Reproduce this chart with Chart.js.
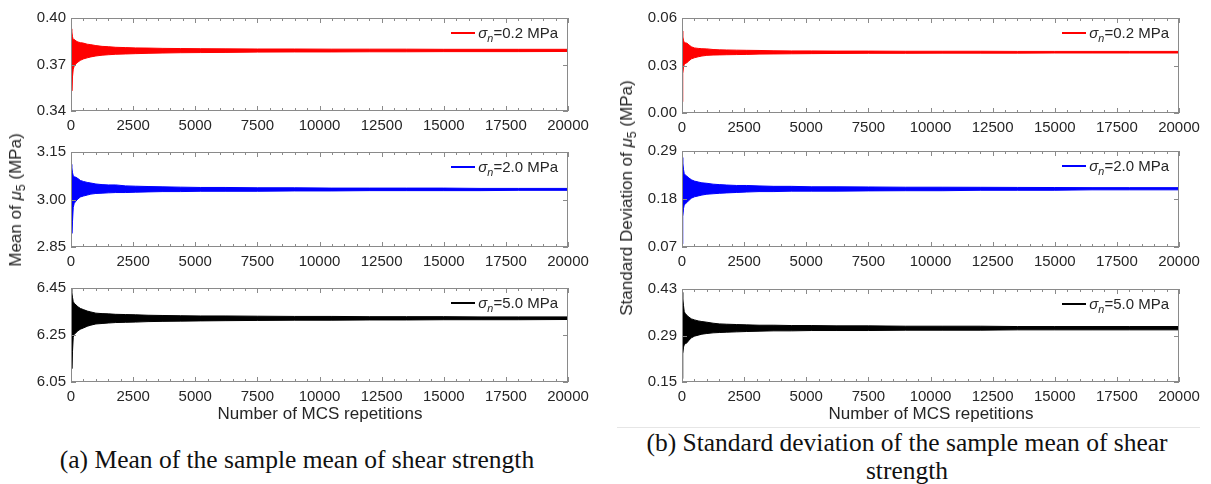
<!DOCTYPE html>
<html>
<head>
<meta charset="utf-8">
<script src="https://cdn.jsdelivr.net/npm/chart.js@4.4.1/dist/chart.umd.min.js"></script>
<style>
  body { margin: 0; background: #fff; width: 1211px; height: 484px; overflow: hidden; position: relative;
         font-family: 'Liberation Sans', Arial, sans-serif; color: #262626; }
  canvas { position: absolute; }
  .lbl { position: absolute; white-space: nowrap; font-size: 17px; line-height: 20px; }
  .legend { position: absolute; display: flex; align-items: center; font-size: 15px; white-space: nowrap; }
  .legend .swatch { display: inline-block; width: 24px; height: 2px; margin-right: 3px; }
  .cap { position: absolute; font-family: 'Liberation Serif', 'Times New Roman', serif; font-size: 25.5px;
         color: #111; white-space: nowrap; text-align: center; line-height: 28px; }
  sub { font-size: 0.72em; vertical-align: -0.35em; line-height: 0; }
</style>
</head>
<body>
<script>
// x positions (MCS repetitions) where the trace envelope was read
const repetitions = [0, 20, 40, 60, 90, 130, 200, 280, 380, 500, 650, 800, 1000, 1250, 1500, 1800,
    2200, 2600, 3100, 3700, 4400, 5200, 6200, 7500, 9000, 10500, 12000, 13500, 15000, 16500, 18000, 20000];

// (a) mean of the sample mean, upper / lower edge of the fluctuating trace
const meanUpper02 = [0.384, 0.393, 0.391, 0.388, 0.386, 0.3862, 0.3852, 0.3845, 0.3841, 0.3838, 0.3831, 0.3828,
    0.3822, 0.3817, 0.3815, 0.3811, 0.3809, 0.3807, 0.3806, 0.3804, 0.3803, 0.3802, 0.3801, 0.3800, 0.3800,
    0.3799, 0.3799, 0.3799, 0.3798, 0.3798, 0.3798, 0.3798];
const meanLower02 = [0.372, 0.360, 0.353, 0.362, 0.367, 0.3690, 0.3705, 0.3716, 0.3727, 0.3736, 0.3743, 0.3749,
    0.3755, 0.3760, 0.3763, 0.3766, 0.3768, 0.3770, 0.3772, 0.3774, 0.3776, 0.3777, 0.3778, 0.3780, 0.3781,
    0.3781, 0.3782, 0.3782, 0.3783, 0.3783, 0.3783, 0.3784];
const meanUpper20 = [3.060, 3.111, 3.100, 3.085, 3.075, 3.072, 3.070, 3.066, 3.060, 3.057, 3.054, 3.052, 3.049,
    3.047, 3.046, 3.046, 3.043, 3.042, 3.041, 3.040, 3.039, 3.038, 3.038, 3.037, 3.037, 3.036, 3.036, 3.036,
    3.036, 3.035, 3.035, 3.035];
const meanLower20 = [3.000, 2.950, 2.893, 2.930, 2.975, 2.988, 2.995, 3.002, 3.008, 3.011, 3.014, 3.017, 3.019,
    3.020, 3.021, 3.022, 3.022, 3.023, 3.024, 3.025, 3.025, 3.026, 3.026, 3.026, 3.027, 3.027, 3.028, 3.028,
    3.028, 3.028, 3.029, 3.029];
const meanUpper50 = [6.380, 6.447, 6.430, 6.410, 6.392, 6.385, 6.378, 6.370, 6.363, 6.358, 6.352, 6.348, 6.343,
    6.341, 6.340, 6.338, 6.337, 6.336, 6.334, 6.333, 6.332, 6.331, 6.331, 6.330, 6.329, 6.329, 6.328, 6.328,
    6.328, 6.327, 6.327, 6.327];
const meanLower50 = [6.270, 6.200, 6.107, 6.180, 6.240, 6.252, 6.260, 6.268, 6.275, 6.280, 6.287, 6.292, 6.297,
    6.299, 6.301, 6.303, 6.304, 6.305, 6.307, 6.308, 6.309, 6.310, 6.311, 6.312, 6.313, 6.313, 6.314, 6.314,
    6.315, 6.315, 6.315, 6.316];

// (b) standard deviation of the sample mean
const sdUpper02 = [0.0300, 0.0518, 0.0480, 0.0460, 0.0445, 0.0443, 0.0441, 0.0430, 0.0418, 0.0411, 0.0408,
    0.0406, 0.0405, 0.0401, 0.0399, 0.0398, 0.0397, 0.0396, 0.0395, 0.0393, 0.0392, 0.0392, 0.0391, 0.0391,
    0.0390, 0.0390, 0.0390, 0.0389, 0.0389, 0.0389, 0.0389, 0.0389];
const sdLower02 = [0.0071, 0.0150, 0.0250, 0.0290, 0.0305, 0.0312, 0.0318, 0.0330, 0.0342, 0.0349, 0.0355,
    0.0360, 0.0364, 0.0366, 0.0367, 0.0368, 0.0369, 0.0370, 0.0372, 0.0373, 0.0374, 0.0375, 0.0376, 0.0377,
    0.0377, 0.0378, 0.0378, 0.0378, 0.0379, 0.0379, 0.0379, 0.0379];
const sdUpper20 = [0.150, 0.275, 0.262, 0.248, 0.238, 0.235, 0.232, 0.228, 0.224, 0.221, 0.219, 0.217, 0.216,
    0.214, 0.213, 0.212, 0.211, 0.211, 0.210, 0.209, 0.209, 0.208, 0.208, 0.2076, 0.207, 0.207, 0.2068, 0.2065,
    0.2063, 0.206, 0.206, 0.206];
const sdLower20 = [0.077, 0.110, 0.140, 0.158, 0.166, 0.169, 0.172, 0.177, 0.182, 0.185, 0.187, 0.189, 0.191,
    0.192, 0.193, 0.194, 0.195, 0.196, 0.197, 0.197, 0.198, 0.198, 0.198, 0.1986, 0.199, 0.199, 0.200, 0.200,
    0.200, 0.201, 0.201, 0.201];
const sdUpper50 = [0.250, 0.420, 0.400, 0.380, 0.362, 0.356, 0.351, 0.345, 0.340, 0.337, 0.334, 0.332, 0.330,
    0.327, 0.325, 0.324, 0.323, 0.322, 0.321, 0.321, 0.320, 0.320, 0.319, 0.319, 0.318, 0.318, 0.318, 0.317,
    0.317, 0.317, 0.317, 0.317];
const sdLower50 = [0.160, 0.200, 0.235, 0.255, 0.262, 0.265, 0.268, 0.276, 0.283, 0.288, 0.291, 0.294, 0.296,
    0.298, 0.299, 0.300, 0.301, 0.302, 0.303, 0.304, 0.304, 0.305, 0.305, 0.305, 0.306, 0.306, 0.306, 0.307,
    0.307, 0.307, 0.307, 0.307];

// tick labels
const xTickStep = 2500;
const xMinorStep = 500;
const meanTicks02 = [0.34, 0.37, 0.40];
const meanTicks20 = [2.85, 3.00, 3.15];
const meanTicks50 = [6.05, 6.25, 6.45];
const sdTicks02 = [0.00, 0.03, 0.06];
const sdTicks20 = [0.07, 0.18, 0.29];
const sdTicks50 = [0.15, 0.29, 0.43];
const stressLabels = ['0.2', '2.0', '5.0'];

const YW = 70, PT = 12, PR = 40, XH = 30;

Chart.defaults.font.family = "'Liberation Sans', Arial, sans-serif";
Chart.defaults.color = '#262626';

// box around plot area with inward ticks, like the original figure
const boxPlugin = {
    id: 'boxTicks',
    afterDraw(chart) {
        const { ctx, chartArea: a, scales } = chart;
        ctx.save();
        ctx.strokeStyle = '#8a8a8a';
        ctx.lineWidth = 1;
        ctx.strokeRect(a.left + 0.5, a.top + 0.5, a.right - a.left - 1, a.bottom - a.top - 1);
        ctx.beginPath();
        for (let v = 0; v <= 20000; v += xMinorStep) {
            const px = Math.round(scales.x.getPixelForValue(v)) + 0.5;
            const len = v % xTickStep === 0 ? 5 : 3;
            ctx.moveTo(px, a.bottom); ctx.lineTo(px, a.bottom - len);
            ctx.moveTo(px, a.top); ctx.lineTo(px, a.top + len);
        }
        chart.options.yTickValues.forEach(v => {
            const py = Math.round(scales.y.getPixelForValue(v)) + 0.5;
            ctx.moveTo(a.left, py); ctx.lineTo(a.left + 5, py);
            ctx.moveTo(a.right, py); ctx.lineTo(a.right - 5, py);
        });
        ctx.stroke();
        ctx.restore();
    }
};

function makePanel(area, upper, lower, color, yTicks, stress) {
    const canvas = document.createElement('canvas');
    const w = (area.x1 - area.x0) + YW + PR;
    const h = (area.y1 - area.y0) + PT + XH;
    canvas.width = w; canvas.height = h;
    canvas.style.left = (area.x0 - YW) + 'px';
    canvas.style.top = (area.y0 - PT) + 'px';
    canvas.style.width = w + 'px'; canvas.style.height = h + 'px';
    document.body.appendChild(canvas);

    new Chart(canvas.getContext('2d'), {
        type: 'line',
        data: {
            datasets: [{
                data: repetitions.map((x, i) => ({ x, y: upper[i] })),
                borderColor: color, backgroundColor: color, borderWidth: 1,
                pointRadius: 0, tension: 0, fill: '+1'
            }, {
                data: repetitions.map((x, i) => ({ x, y: lower[i] })),
                borderColor: color, backgroundColor: color, borderWidth: 1,
                pointRadius: 0, tension: 0, fill: false
            }]
        },
        options: {
            responsive: false,
            animation: false,
            devicePixelRatio: 1,
            yTickValues: yTicks,
            layout: { padding: { left: 0, top: PT, right: PR, bottom: 0 } },
            plugins: { legend: { display: false }, tooltip: { enabled: false } },
            scales: {
                x: {
                    type: 'linear', min: 0, max: 20000,
                    grid: { display: false, drawTicks: false },
                    border: { display: false },
                    ticks: { stepSize: xTickStep, maxRotation: 0, autoSkip: false, padding: 6,
                             font: { size: 15 }, callback: v => String(v) },
                    afterFit: s => { s.height = XH; }
                },
                y: {
                    min: yTicks[0], max: yTicks[2],
                    grid: { display: false, drawTicks: false },
                    border: { display: false },
                    afterBuildTicks: s => { s.ticks = yTicks.map(v => ({ value: v })); },
                    ticks: { padding: 5, font: { size: 15 }, callback: v => v.toFixed(2) },
                    afterFit: s => { s.width = YW; }
                }
            }
        },
        plugins: [boxPlugin]
    });

    const lg = document.createElement('div');
    lg.className = 'legend';
    lg.style.right = (1211 - area.x1 + 10) + 'px';
    lg.style.top = (area.y0 + 8) + 'px';
    lg.innerHTML = '<span class="swatch" style="background:' + color + '"></span>' +
        '<span><i>σ</i><sub><i>n</i></sub>=' + stress + ' MPa</span>';
    document.body.appendChild(lg);
}

const leftX = { x0: 71, x1: 568 };
const rightX = { x0: 682, x1: 1179 };
const colors = ['#ff0000', '#0000ff', '#000000'];

makePanel({ ...leftX, y0: 16, y1: 111 }, meanUpper02, meanLower02, colors[0], meanTicks02, stressLabels[0]);
makePanel({ ...leftX, y0: 150, y1: 247 }, meanUpper20, meanLower20, colors[1], meanTicks20, stressLabels[1]);
makePanel({ ...leftX, y0: 286, y1: 382 }, meanUpper50, meanLower50, colors[2], meanTicks50, stressLabels[2]);
makePanel({ ...rightX, y0: 16, y1: 113 }, sdUpper02, sdLower02, colors[0], sdTicks02, stressLabels[0]);
makePanel({ ...rightX, y0: 149, y1: 247 }, sdUpper20, sdLower20, colors[1], sdTicks20, stressLabels[1]);
makePanel({ ...rightX, y0: 287, y1: 382 }, sdUpper50, sdLower50, colors[2], sdTicks50, stressLabels[2]);

function addText(cls, html, css) {
    const d = document.createElement('div');
    d.className = cls;
    d.innerHTML = html;
    Object.assign(d.style, css);
    document.body.appendChild(d);
    return d;
}

// axis titles
addText('lbl', 'Mean of <i>μ</i><sub>5</sub> (MPa)',
    { left: '16px', top: '200px', transform: 'translate(-50%,-50%) rotate(-90deg)' });
addText('lbl', 'Standard Deviation of <i>μ</i><sub>5</sub> (MPa)',
    { left: '627px', top: '198px', transform: 'translate(-50%,-50%) rotate(-90deg)' });
addText('lbl', 'Number of MCS repetitions', { left: '320px', top: '414px', transform: 'translate(-50%,-50%)' });
addText('lbl', 'Number of MCS repetitions', { left: '931px', top: '414px', transform: 'translate(-50%,-50%)' });

// captions
const sep = document.createElement('div');
Object.assign(sep.style, { position: 'absolute', left: '617px', top: '427px', width: '583px', height: '1px', background: '#e6e6e6' });
document.body.appendChild(sep);
addText('cap', '(a) Mean of the sample mean of shear strength', { left: '297px', top: '460px', transform: 'translate(-50%,-50%)' });
addText('cap', '(b) Standard deviation of the sample mean of shear<br>strength', { left: '907px', top: '457px', transform: 'translate(-50%,-50%)' });
</script>
</body>
</html>
